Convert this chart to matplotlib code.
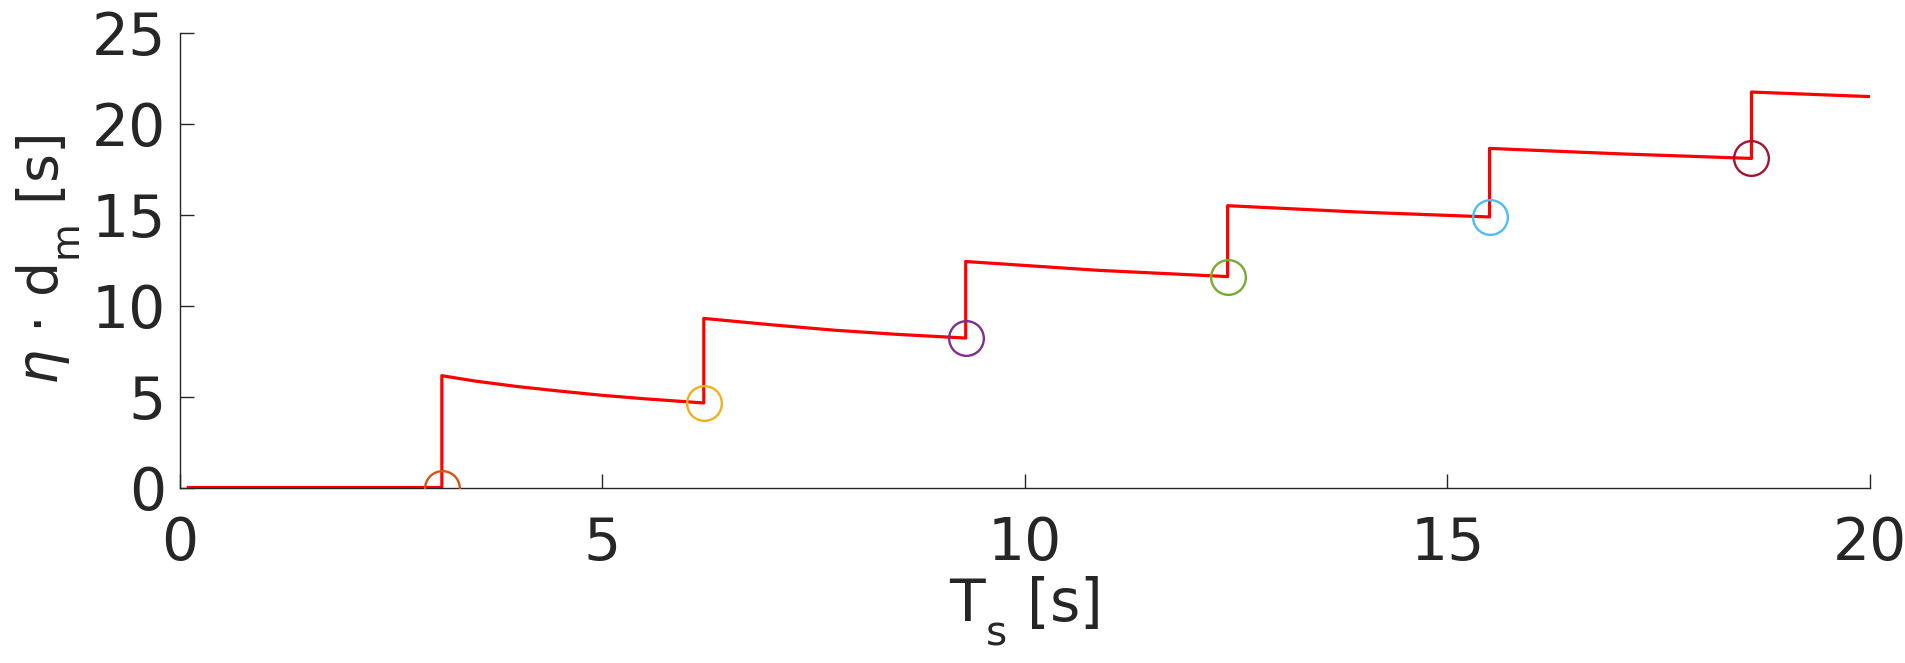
import matplotlib
matplotlib.use('Agg')
import matplotlib.pyplot as plt
import numpy as np

# red trace (piecewise, one list per segment)
x_flat = [0.1, 3.1]
y_flat = [0.0, 0.0]
seg_x = [
    [3.1, 3.5, 4.0, 4.5, 5.0, 5.5, 6.2],
    [6.2, 7.0, 7.75, 8.5, 9.3],
    [9.3, 10.85, 12.4],
    [12.4, 13.95, 15.5],
    [15.5, 17.05, 18.6],
    [18.6, 20.0],
]
seg_y = [
    [6.15, 5.85, 5.55, 5.3, 5.07, 4.88, 4.65],
    [9.3, 8.95, 8.65, 8.42, 8.22],
    [12.43, 11.95, 11.6],
    [15.5, 15.15, 14.88],
    [18.65, 18.35, 18.1],
    [21.75, 21.5],
]

# circled switching points
event_x = [3.1, 6.2, 9.3, 12.4, 15.5, 18.6]
event_y = [0.0, 4.65, 8.22, 11.6, 14.88, 18.1]
event_colors = ['#d95319', '#edb120', '#7e2f8e', '#77ac30', '#4dbeee', '#a2142f']

x_ticks = [0, 5, 10, 15, 20]
y_ticks = [0, 5, 10, 15, 20, 25]

plt.rcParams['mathtext.fontset'] = 'dejavusans'
plt.rcParams['font.family'] = 'DejaVu Sans'

# matlab-style tex drops subscripts lower than mathtext does
try:
    from matplotlib import _mathtext
    _mathtext.DejaVuSansFontConstants.sub1 = 0.75
    _mathtext.DejaVuSansFontConstants.sub2 = 0.85
except Exception:
    pass

fig = plt.figure(figsize=(19.06, 6.63), dpi=100)
ax = fig.add_axes([0.0944, 0.2647, 0.8866, 0.6856])

# one continuous polyline with vertical jumps
xs = list(x_flat)
ys = list(y_flat)
for sx, sy in zip(seg_x, seg_y):
    xs += sx
    ys += sy
ax.plot(xs, ys, color='#ff0000', lw=2.3, zorder=2)

for ex, ey, c in zip(event_x, event_y, event_colors):
    ax.plot(ex, ey, 'o', mfc='none', mec=c, ms=25, mew=1.7, zorder=3)

ax.set_xlim(0, 20)
ax.set_ylim(0, 25)
ax.set_xticks(x_ticks)
ax.set_yticks(y_ticks)

dark = '#262626'
for s in ('top', 'right'):
    ax.spines[s].set_visible(False)
for s in ('left', 'bottom'):
    ax.spines[s].set_color(dark)
    ax.spines[s].set_linewidth(1.0)
ax.tick_params(direction='in', length=10, width=1.0, colors=dark, labelsize=42)
ax.tick_params(axis='x', pad=20)
ax.tick_params(axis='y', pad=10)

ax.set_xlabel(r'T$_\mathrm{s}$ [s]', fontsize=42, color=dark, labelpad=2)
ax.set_ylabel(r'$\eta$ $\cdot$ d$_\mathrm{m}$ [s]', fontsize=40, color=dark, labelpad=6)

fig.savefig('out.png', dpi=100, facecolor='white')
